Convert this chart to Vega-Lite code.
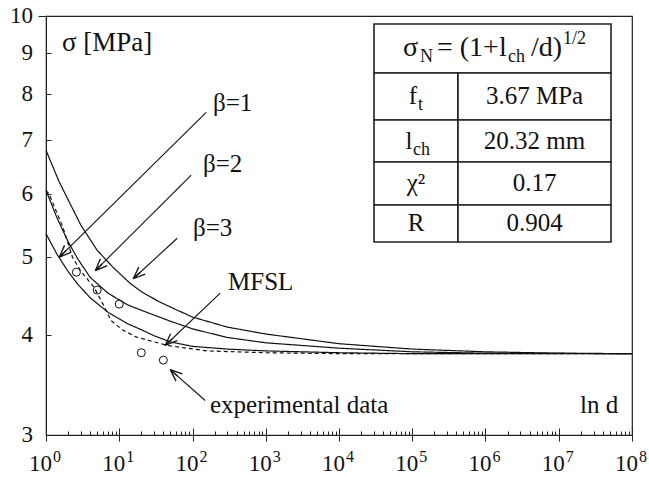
{
  "$schema": "https://vega.github.io/schema/vega-lite/v6.json",
  "width": 586,
  "height": 419,
  "autosize": {"type": "none"},
  "padding": {"left": 46, "top": 16, "right": 17, "bottom": 42},
  "background": "white",
  "config": {
    "font": "Liberation Serif",
    "view": {"stroke": "#222", "strokeWidth": 1.2},
    "axis": {"grid": false, "domainColor": "#222", "tickColor": "#222"}
  },
  "resolve": {"axis": {"x": "independent", "y": "independent"}},
  "datasets": {
    "curves": [
      {"s": "b3", "d": 1, "v": 6.80}, {"s": "b3", "d": 1.5, "v": 6.22}, {"s": "b3", "d": 2, "v": 5.90}, {"s": "b3", "d": 3, "v": 5.48}, {"s": "b3", "d": 5, "v": 5.10}, {"s": "b3", "d": 8, "v": 4.87}, {"s": "b3", "d": 14, "v": 4.64}, {"s": "b3", "d": 20, "v": 4.53}, {"s": "b3", "d": 35, "v": 4.40}, {"s": "b3", "d": 60, "v": 4.30}, {"s": "b3", "d": 100, "v": 4.21}, {"s": "b3", "d": 300, "v": 4.09}, {"s": "b3", "d": 1000, "v": 4.01}, {"s": "b3", "d": 10000, "v": 3.90}, {"s": "b3", "d": 100000, "v": 3.84}, {"s": "b3", "d": 1000000, "v": 3.81}, {"s": "b3", "d": 10000000, "v": 3.795}, {"s": "b3", "d": 100000000, "v": 3.79},
      {"s": "b2", "d": 1, "v": 6.06}, {"s": "b2", "d": 1.4, "v": 5.61}, {"s": "b2", "d": 2, "v": 5.23}, {"s": "b2", "d": 2.7, "v": 4.98}, {"s": "b2", "d": 4, "v": 4.72}, {"s": "b2", "d": 7, "v": 4.51}, {"s": "b2", "d": 13, "v": 4.36}, {"s": "b2", "d": 25, "v": 4.26}, {"s": "b2", "d": 50, "v": 4.16}, {"s": "b2", "d": 100, "v": 4.07}, {"s": "b2", "d": 300, "v": 3.97}, {"s": "b2", "d": 1000, "v": 3.91}, {"s": "b2", "d": 10000, "v": 3.85}, {"s": "b2", "d": 100000, "v": 3.81}, {"s": "b2", "d": 1000000, "v": 3.795}, {"s": "b2", "d": 100000000, "v": 3.79},
      {"s": "b1", "d": 1, "v": 5.35}, {"s": "b1", "d": 1.4, "v": 5.05}, {"s": "b1", "d": 2, "v": 4.80}, {"s": "b1", "d": 2.7, "v": 4.63}, {"s": "b1", "d": 4, "v": 4.45}, {"s": "b1", "d": 7, "v": 4.27}, {"s": "b1", "d": 13, "v": 4.13}, {"s": "b1", "d": 20, "v": 4.06}, {"s": "b1", "d": 30, "v": 3.99}, {"s": "b1", "d": 50, "v": 3.92}, {"s": "b1", "d": 100, "v": 3.87}, {"s": "b1", "d": 300, "v": 3.84}, {"s": "b1", "d": 1000, "v": 3.82}, {"s": "b1", "d": 10000, "v": 3.80}, {"s": "b1", "d": 100000, "v": 3.79}, {"s": "b1", "d": 100000000, "v": 3.79},
      {"s": "mfsl", "d": 1, "v": 6.06}, {"s": "mfsl", "d": 1.1, "v": 6.00}, {"s": "mfsl", "d": 1.7, "v": 5.45}, {"s": "mfsl", "d": 2.3, "v": 5.0}, {"s": "mfsl", "d": 3, "v": 4.80}, {"s": "mfsl", "d": 4.5, "v": 4.59}, {"s": "mfsl", "d": 6, "v": 4.37}, {"s": "mfsl", "d": 7.7, "v": 4.17}, {"s": "mfsl", "d": 11, "v": 4.06}, {"s": "mfsl", "d": 16.5, "v": 3.98}, {"s": "mfsl", "d": 27, "v": 3.93}, {"s": "mfsl", "d": 46, "v": 3.88}, {"s": "mfsl", "d": 84, "v": 3.85}, {"s": "mfsl", "d": 160, "v": 3.82}, {"s": "mfsl", "d": 1000, "v": 3.80}, {"s": "mfsl", "d": 10000, "v": 3.79}, {"s": "mfsl", "d": 100000000, "v": 3.79}
    ],
    "exp": [
      {"d": 2.6, "v": 4.79}, {"d": 5, "v": 4.55}, {"d": 10, "v": 4.37}, {"d": 20, "v": 3.80}, {"d": 40, "v": 3.72}
    ],
    "arrows": [
      {"a": "b1", "x": 153.8, "y": 7.58, "x2": 1.52, "y2": 5.0},
      {"a": "b2", "x": 96, "y": 6.33, "x2": 4.71, "y2": 4.81},
      {"a": "b3", "x": 61.8, "y": 5.28, "x2": 15.5, "y2": 4.70},
      {"a": "mfsl", "x": 238.8, "y": 4.51, "x2": 42.4, "y2": 3.88},
      {"a": "exp", "x": 149, "y": 3.313, "x2": 49.6, "y2": 3.62}
    ],
    "xticklabels": [
      {"b": "10", "e": "0", "d": 1}, {"b": "10", "e": "1", "d": 10}, {"b": "10", "e": "2", "d": 100}, {"b": "10", "e": "3", "d": 1000}, {"b": "10", "e": "4", "d": 10000}, {"b": "10", "e": "5", "d": 100000}, {"b": "10", "e": "6", "d": 1000000}, {"b": "10", "e": "7", "d": 10000000}, {"b": "10", "e": "8", "d": 100000000}
    ],
    "yticklabels": [
      {"t": "3", "v": 3}, {"t": "4", "v": 4}, {"t": "5", "v": 5}, {"t": "6", "v": 6}, {"t": "7", "v": 7}, {"t": "8", "v": 8}, {"t": "9", "v": 9}, {"t": "10", "v": 10}
    ],
    "labels": [
      {"t": "β=1", "d": 190.5, "v": 7.79},
      {"t": "β=2", "d": 139.1, "v": 6.536},
      {"t": "β=3", "d": 101.6, "v": 5.439},
      {"t": "MFSL", "d": 305.2, "v": 4.656},
      {"t": "experimental data", "d": 173.4, "v": 3.269},
      {"t": "ln d", "d": 19510000, "v": 3.269}
    ],
    "ytitle": [
      {"t": "σ [MPa]", "d": 1.654, "v": 9.254}
    ],
    "cells": [
      {"x": 30050, "x2": 51680000, "y": 9.773, "y2": 8.489},
      {"x": 30050, "x2": 421200, "y": 8.489, "y2": 7.417},
      {"x": 421200, "x2": 51680000, "y": 8.489, "y2": 7.417},
      {"x": 30050, "x2": 421200, "y": 7.417, "y2": 6.575},
      {"x": 421200, "x2": 51680000, "y": 7.417, "y2": 6.575},
      {"x": 30050, "x2": 421200, "y": 6.575, "y2": 5.810},
      {"x": 421200, "x2": 51680000, "y": 6.575, "y2": 5.810},
      {"x": 30050, "x2": 421200, "y": 5.810, "y2": 5.223},
      {"x": 421200, "x2": 51680000, "y": 5.810, "y2": 5.223}
    ],
    "ctext": [
      {"t": "f", "d": 102400, "v": 7.936},
      {"t": "3.67 MPa", "d": 4667000, "v": 7.936},
      {"t": "l", "d": 90300, "v": 6.982},
      {"t": "20.32 mm", "d": 4667000, "v": 6.982},
      {"t": "χ²", "d": 112500, "v": 6.180},
      {"t": "0.17", "d": 4667000, "v": 6.180},
      {"t": "R", "d": 112500, "v": 5.510},
      {"t": "0.904", "d": 4667000, "v": 5.510}
    ],
    "small": [
      {"t": "t", "d": 119800, "v": 7.633},
      {"t": "ch", "d": 102400, "v": 6.707},
      {"t": "N", "d": 127600, "v": 8.762},
      {"t": "ch", "d": 2029000, "v": 8.762},
      {"t": "1/2", "d": 11430000, "v": 9.227}
    ],
    "hdr": [
      {"t": "σ", "d": 74770, "v": 8.914},
      {"t": "= (1+l", "d": 217700, "v": 8.914},
      {"t": "/d)", "d": 4181000, "v": 8.914}
    ]
  },
  "layer": [
    {
      "data": {"name": "curves"},
      "mark": {"type": "line", "color": "#111", "strokeWidth": 1.2},
      "encoding": {
        "x": {
          "field": "d", "type": "quantitative",
          "scale": {"type": "log", "domain": [1, 100000000], "nice": false},
          "axis": {
            "orient": "bottom",
            "title": null,
            "values": [1,2,3,4,5,6,7,8,9,10,20,30,40,50,60,70,80,90,100,200,300,400,500,600,700,800,900,1000,2000,3000,4000,5000,6000,7000,8000,9000,10000,20000,30000,40000,50000,60000,70000,80000,90000,100000,200000,300000,400000,500000,600000,700000,800000,900000,1000000,2000000,3000000,4000000,5000000,6000000,7000000,8000000,9000000,10000000,20000000,30000000,40000000,50000000,60000000,70000000,80000000,90000000,100000000],
            "labels": false,
            "tickSize": {"condition": {"test": "abs(log(datum.value)/LN10 - round(log(datum.value)/LN10)) < 0.001", "value": -7}, "value": -4}
          }
        },
        "y": {
          "field": "v", "type": "quantitative",
          "scale": {"type": "log", "domain": [3, 10], "nice": false},
          "axis": {"orient": "left", "title": null, "values": [3,4,5,6,7,8,9,10], "labels": false, "tickSize": -5}
        },
        "detail": {"field": "s"},
        "strokeDash": {"field": "s", "type": "nominal", "scale": {"domain": ["b1", "b2", "b3", "mfsl"], "range": [[1, 0], [1, 0], [1, 0], [4, 3]]}, "legend": null}
      }
    },
    {
      "data": {"name": "exp"},
      "mark": {"type": "point", "shape": "circle", "filled": false, "stroke": "#111", "strokeWidth": 1, "size": 64, "opacity": 1},
      "encoding": {
        "x": {"field": "d", "type": "quantitative", "axis": {"orient": "bottom", "title": null, "values": [1,10,100,1000,10000,100000,1000000,10000000,100000000], "tickSize": 6, "labels": false, "domain": false}},
        "y": {"field": "v", "type": "quantitative", "axis": {"orient": "left", "title": null, "values": [10], "tickSize": 8, "labels": false, "domain": false}}
      }
    },
    {
      "data": {"name": "xticklabels"},
      "mark": {"type": "text", "align": "right", "baseline": "alphabetic", "dx": 6, "dy": 36, "fontSize": 23, "font": "Liberation Serif", "color": "#111"},
      "encoding": {
        "x": {"field": "d", "type": "quantitative", "axis": null},
        "y": {"datum": 3, "type": "quantitative", "axis": null},
        "text": {"field": "b"}
      }
    },
    {
      "data": {"name": "xticklabels"},
      "mark": {"type": "text", "align": "left", "baseline": "alphabetic", "dx": 7, "dy": 27, "fontSize": 16, "font": "Liberation Serif", "color": "#111"},
      "encoding": {
        "x": {"field": "d", "type": "quantitative", "axis": null},
        "y": {"datum": 3, "type": "quantitative", "axis": null},
        "text": {"field": "e"}
      }
    },
    {
      "data": {"name": "yticklabels"},
      "mark": {"type": "text", "align": "right", "baseline": "middle", "dx": -13, "fontSize": 23, "font": "Liberation Serif", "color": "#111"},
      "encoding": {
        "x": {"datum": 1, "type": "quantitative", "axis": null},
        "y": {"field": "v", "type": "quantitative", "axis": null},
        "text": {"field": "t"}
      }
    },
    {
      "data": {"name": "arrows"},
      "mark": {"type": "rule", "color": "#111", "strokeWidth": 1.1},
      "encoding": {
        "x": {"field": "x", "type": "quantitative", "axis": null},
        "y": {"field": "y", "type": "quantitative", "axis": null},
        "x2": {"field": "x2"},
        "y2": {"field": "y2"}
      }
    },
    {
      "data": {"name": "arrows"},
      "transform": [
        {"calculate": "atan2((log(datum.y) - log(datum.y2)) / LN10 * 801.3, (log(datum.x2) - log(datum.x)) / LN10 * 73.25) * 180 / PI", "as": "ang"}
      ],
      "mark": {"type": "point", "shape": "M0,0L-1,-0.4M0,0L-1,0.4M0,0L-0.8,0", "filled": false, "stroke": "#111", "strokeWidth": 1.3, "size": 576, "opacity": 1},
      "encoding": {
        "x": {"field": "x2", "type": "quantitative", "axis": null},
        "y": {"field": "y2", "type": "quantitative", "axis": null},
        "angle": {"field": "ang", "type": "quantitative", "scale": null}
      }
    },
    {
      "data": {"name": "labels"},
      "mark": {"type": "text", "align": "left", "baseline": "middle", "fontSize": 25, "font": "Liberation Serif", "color": "#111"},
      "encoding": {
        "x": {"field": "d", "type": "quantitative", "axis": null},
        "y": {"field": "v", "type": "quantitative", "axis": null},
        "text": {"field": "t"}
      }
    },
    {
      "data": {"name": "ytitle"},
      "mark": {"type": "text", "align": "left", "baseline": "middle", "fontSize": 27, "font": "Liberation Serif", "color": "#111"},
      "encoding": {
        "x": {"field": "d", "type": "quantitative", "axis": null},
        "y": {"field": "v", "type": "quantitative", "axis": null},
        "text": {"field": "t"}
      }
    },
    {
      "data": {"name": "cells"},
      "mark": {"type": "rect", "fill": "white", "stroke": "#222", "strokeWidth": 1.6},
      "encoding": {
        "x": {"field": "x", "type": "quantitative", "axis": null},
        "x2": {"field": "x2"},
        "y": {"field": "y", "type": "quantitative", "axis": null},
        "y2": {"field": "y2"}
      }
    },
    {
      "data": {"name": "ctext"},
      "mark": {"type": "text", "align": "center", "baseline": "middle", "fontSize": 25, "font": "Liberation Serif", "color": "#111"},
      "encoding": {
        "x": {"field": "d", "type": "quantitative", "axis": null},
        "y": {"field": "v", "type": "quantitative", "axis": null},
        "text": {"field": "t"}
      }
    },
    {
      "data": {"name": "small"},
      "mark": {"type": "text", "align": "left", "baseline": "alphabetic", "fontSize": 18, "font": "Liberation Serif", "color": "#111"},
      "encoding": {
        "x": {"field": "d", "type": "quantitative", "axis": null},
        "y": {"field": "v", "type": "quantitative", "axis": null},
        "text": {"field": "t"}
      }
    },
    {
      "data": {"name": "hdr"},
      "mark": {"type": "text", "align": "left", "baseline": "alphabetic", "fontSize": 28, "font": "Liberation Serif", "color": "#111"},
      "encoding": {
        "x": {"field": "d", "type": "quantitative", "axis": null},
        "y": {"field": "v", "type": "quantitative", "axis": null},
        "text": {"field": "t"}
      }
    }
  ]
}
